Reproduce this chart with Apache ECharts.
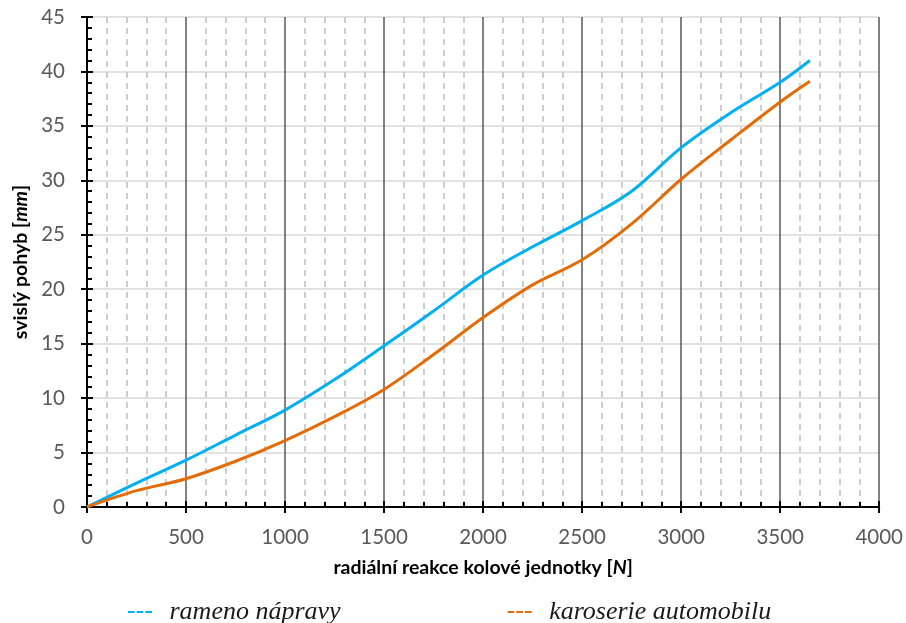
<!DOCTYPE html>
<html>
<head>
<meta charset="utf-8">
<script src="https://cdn.jsdelivr.net/npm/echarts@6/dist/echarts.min.js"></script>
<style>
  html, body { margin: 0; padding: 0; background: #fff; }
  #chart { width: 906px; height: 623px; }
</style>
</head>
<body>
<div id="chart"></div>
<script>
// data
var sila = [0, 250, 500, 750, 1000, 1250, 1500, 1750, 2000, 2250, 2500, 2750, 3000, 3250, 3500, 3650];
var rameno = [0, 2.2, 4.3, 6.6, 8.9, 11.7, 14.8, 18.0, 21.3, 23.9, 26.3, 29.0, 33.0, 36.2, 39.0, 41.0];
var karoserie = [0, 1.5, 2.6, 4.2, 6.1, 8.3, 10.8, 14.0, 17.4, 20.4, 22.7, 26.0, 30.1, 33.7, 37.2, 39.1];
var nazvy = ['rameno nápravy', 'karoserie automobilu'];

document.addEventListener('DOMContentLoaded', function () {
  var chart = echarts.init(document.getElementById('chart'));

  function body(xs, ys) {
    return xs.map(function (x, i) { return [x, ys[i]]; });
  }

  var sans = 'Lato, "Open Sans", sans-serif';
  var dash3 = 'path://M0,0H10V3H0Z M13,0H23V3H13Z M26,0H36V3H26Z';
  var plain = function (v) { return String(v); };

  var option = {
    animation: false,
    grid: { left: 87, right: 26, top: 17, bottom: 116 },
    legend: {
      data: nazvy,
      left: 123,
      top: 594,
      itemGap: 167,
      itemWidth: 37,
      itemHeight: 2,
      icon: dash3,
      textStyle: { fontFamily: '"Liberation Serif", "Times New Roman", serif', fontStyle: 'italic', fontSize: 26, color: '#1a1a1a', padding: [0, 0, 0, 6] }
    },
    xAxis: [{
      type: 'value', min: 0, max: 4000, interval: 500,
      name: 'radiální reakce kolové jednotky [{i|N}]',
      nameLocation: 'middle', nameGap: 51,
      nameTextStyle: {
        fontFamily: sans, fontWeight: 'bold', fontSize: 19.5, color: '#000',
        rich: { i: { fontFamily: sans, fontWeight: 'bold', fontStyle: 'italic', fontSize: 19.5, color: '#000' } }
      },
      axisLine: { show: true, onZero: false, lineStyle: { color: '#000', width: 2 } },
      axisTick: { show: true, inside: true, length: 6, lineStyle: { color: '#000', width: 2 } },
      minorTick: { show: true, splitNumber: 5, length: 5, lineStyle: { color: '#000', width: 2 } },
      axisLabel: { margin: 20, fontFamily: sans, fontSize: 20.5, color: '#595959', formatter: plain },
      splitLine: { show: true, lineStyle: { color: '#595959', width: 1.5 } },
      minorSplitLine: { show: true, lineStyle: { color: '#bdbdbd', width: 1.5, type: [6, 5] } }
    }, {
      type: 'value', min: 0, max: 4000, interval: 500, position: 'bottom',
      axisLine: { show: false, onZero: false },
      axisTick: { show: true, inside: false, length: 6, lineStyle: { color: '#000', width: 2 } },
      axisLabel: { show: false },
      splitLine: { show: false }
    }],
    yAxis: [{
      type: 'value', min: 0, max: 45, interval: 5,
      name: 'svislý pohyb [{i|mm}]',
      nameLocation: 'middle', nameGap: 55, nameRotate: 90,
      nameTextStyle: {
        fontFamily: sans, fontWeight: 'bold', fontSize: 19.5, color: '#000',
        rich: { i: { fontFamily: sans, fontWeight: 'bold', fontStyle: 'italic', fontSize: 19.5, color: '#000' } }
      },
      axisLine: { show: true, onZero: false, lineStyle: { color: '#000', width: 2 } },
      axisTick: { show: true, inside: true, length: 6, lineStyle: { color: '#000', width: 2 } },
      minorTick: { show: true, splitNumber: 5, length: 5, lineStyle: { color: '#000', width: 2 } },
      axisLabel: { margin: 22, fontFamily: sans, fontSize: 20.5, color: '#595959', formatter: plain },
      splitLine: { show: true, lineStyle: { color: '#d9d9d9', width: 1.5 } }
    }, {
      type: 'value', min: 0, max: 45, interval: 5, position: 'left',
      axisLine: { show: false, onZero: false },
      axisTick: { show: true, inside: false, length: 6, lineStyle: { color: '#000', width: 2 } },
      axisLabel: { show: false },
      splitLine: { show: false }
    }],
    series: [{
      name: nazvy[0],
      type: 'line',
      smooth: 0.35,
      showSymbol: false,
      data: body(sila, rameno),
      lineStyle: { color: '#00b0f0', width: 3 },
      itemStyle: { color: '#00b0f0' }
    }, {
      name: nazvy[1],
      type: 'line',
      smooth: 0.35,
      showSymbol: false,
      data: body(sila, karoserie),
      lineStyle: { color: '#e36c09', width: 3 },
      itemStyle: { color: '#e36c09' }
    }]
  };

  chart.setOption(option);
});
</script>
</body>
</html>
